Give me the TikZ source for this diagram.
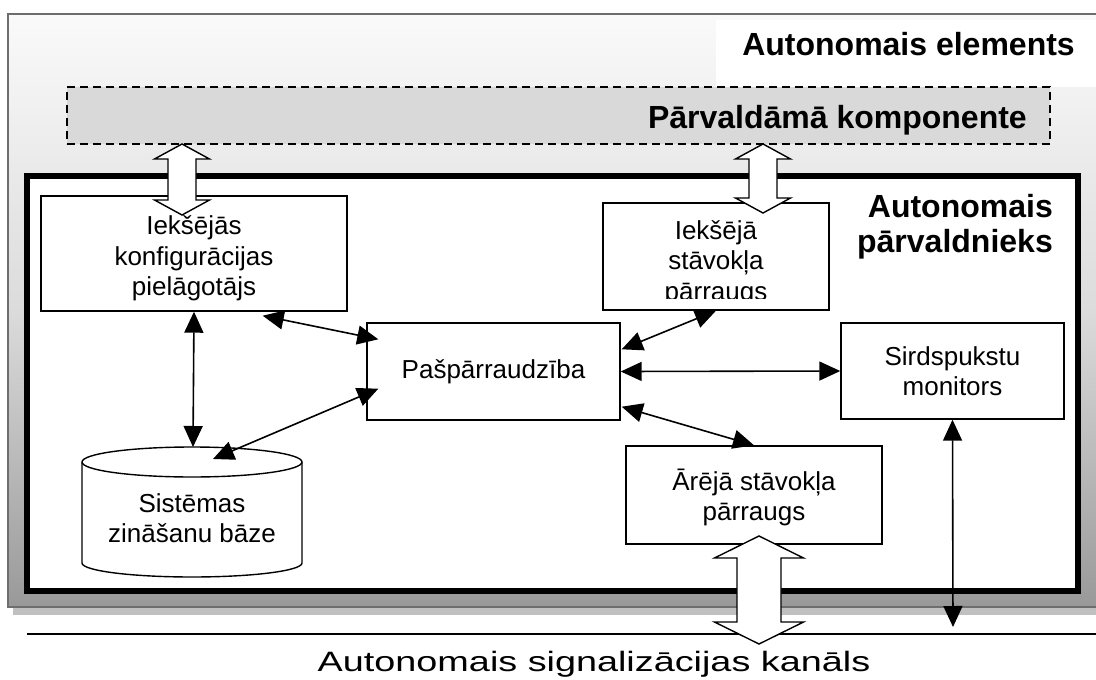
\documentclass[tikz,border=0pt]{standalone}
\usepackage{fontspec}
\setmainfont{Liberation Sans}
\usetikzlibrary{arrows.meta,calc}
\definecolor{shadowg}{HTML}{C0C0C0}
\definecolor{frameg}{HTML}{6E6E6E}
\definecolor{compg}{HTML}{D9D9D9}
\newcommand{\hdarrow}[6]{\draw[big] (#1,#2) -- ({#1+#5},{#2+#6}) -- ({#1+#4},{#2+#6}) -- ({#1+#4},{#3-#6}) -- ({#1+#5},{#3-#6}) -- (#1,#3) -- ({#1-#5},{#3-#6}) -- ({#1-#4},{#3-#6}) -- ({#1-#4},{#2+#6}) -- ({#1-#5},{#2+#6}) -- cycle;}
\begin{document}
\begin{tikzpicture}[x=1pt,y=-1pt,
  box/.style={draw, line width=1.4pt, fill=white, inner sep=0pt, align=center, font=\fontsize{26}{30.5}\selectfont},
  txt/.style={inner sep=0pt, align=center, font=\fontsize{26}{30.5}\selectfont},
  conn/.style={line width=1.6pt, {Triangle[length=21pt,width=19pt]}-{Triangle[length=21pt,width=19pt]}},
  big/.style={line width=1.4pt, fill=white, line join=miter},
  title/.style={font=\bfseries\fontsize{32}{35}\selectfont, inner sep=0pt}]
\useasboundingbox (0,0) rectangle (1096,680);
% outer element frame
\fill[shadowg] (13,21) rectangle (1120,615);
\shade[top color=black!2, bottom color=black!40, middle color=black!14] (8,14) rectangle (1115,607);
\draw[frameg, line width=1.5pt] (8,14) rectangle (1115,607);
\fill[white] (716,20) rectangle (1120,87);
\node[title, anchor=base east] (ae) at (1075,56) {Autonomais elements};
% managed component
\node[draw, fill=compg, dash pattern=on 8pt off 5pt, line width=2pt, minimum width=983, minimum height=57, inner sep=0pt] (comp) at (558.5,115.5) {};
\node[title, anchor=base east] (pk) at (1027,128) {Pārvaldāmā komponente};
% autonomic manager
\node[draw, line width=6.5pt, fill=white, minimum width=1051, minimum height=415, inner sep=0pt] (am) at (552.5,383.5) {};
\node[title, align=right, anchor=east] (amt) at (1053,227) {Autonomais\\pārvaldnieks};
% boxes
\node[box, minimum width=306, minimum height=115] (cfg) at (194,253.5) {};
\node[txt] (cfgt) at (194,258.5) {Iekšējās\\konfigurācijas\\pielāgotājs};
\node[box, minimum width=226, minimum height=107] (mon) at (716,256.5) {};
\begin{scope}
\clip (603,203) rectangle (829,298);
\node[txt] (montext) at (716,263) {Iekšējā\\stāvokļa\\pārraugs};
\end{scope}
\node[box, minimum width=253, minimum height=97] (pasp) at (493.5,371.5) {Pašpārraudzība};
\node[box, minimum width=223, minimum height=96] (sird) at (952.5,371) {Sirdspukstu\\monitors};
\node[box, minimum width=256, minimum height=98] (ext) at (754,495) {};
\node[txt] (extt) at (754,497.5) {Ārējā stāvokļa\\pārraugs};
% database cylinder
\draw[line width=1.4pt, fill=white] (82,462) -- (82,563) arc[start angle=180, end angle=360, x radius=110pt, y radius=14pt] -- (302,462) arc[start angle=0, end angle=180, x radius=110pt, y radius=15pt] -- cycle;
\draw[line width=1.4pt] (82,462) arc[start angle=180, end angle=360, x radius=110pt, y radius=15pt];
\node[txt] (db) at (192,518) {Sistēmas\\zināšanu bāze};
\coordinate (dbtop) at (193,447);
\coordinate (dbtip) at (213,459);
% channel line
\coordinate (chL) at (27,634);
\coordinate (chR) at (1100,634);
\coordinate (chtip) at (953,627);
\draw[line width=1.5pt] (chL) -- (chR);
% connectors
\draw[conn] (cfg.south) -- (dbtop);
\draw[conn] ([shift={(-85,4)}]cfg.south east) -- ([shift={(12,17)}]pasp.north west);
\draw[conn] ([shift={(12,-32)}]pasp.south west) -- (dbtip);
\draw[conn] (mon.south) -- ([shift={(1,27)}]pasp.north east);
\draw[conn] (pasp.east) -- (sird.west);
\draw[conn] ([shift={(1,-14)}]pasp.south east) -- (ext.north);
\draw[conn] (sird.south) -- (chtip);
% hollow double arrows
\hdarrow{182}{144}{215}{14}{27.5}{15}
\hdarrow{763}{144}{213}{14}{27.5}{15}
\hdarrow{759}{536}{644}{22}{44.5}{22}
% channel label
\node[anchor=base, inner sep=0pt, font=\fontsize{28}{30}\selectfont] (chan) at (594,671) {\scalebox{1.35}[1]{Autonomais signalizācijas kanāls}};
\end{tikzpicture}
\end{document}
